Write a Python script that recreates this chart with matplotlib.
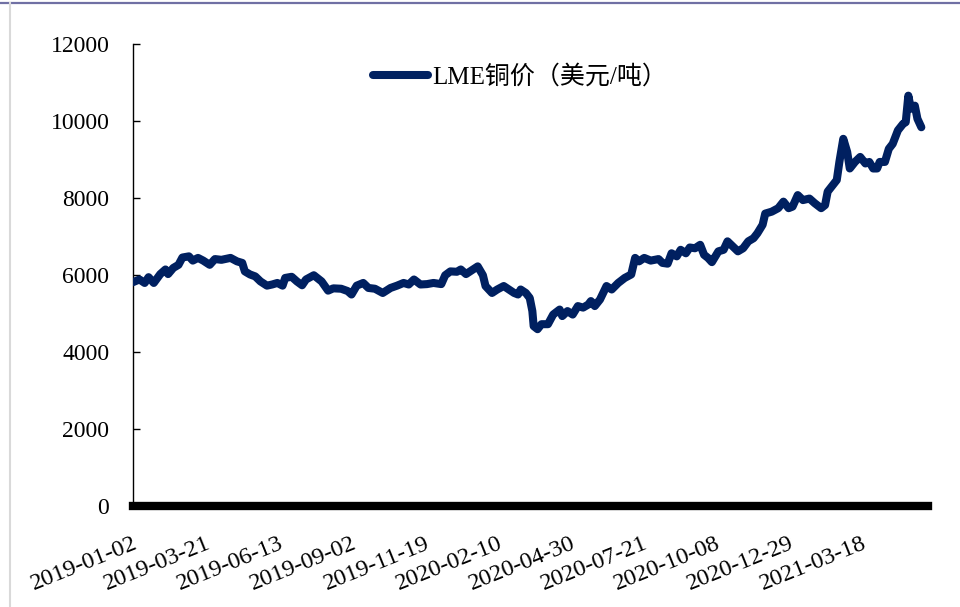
import matplotlib
matplotlib.use("Agg")
import matplotlib.pyplot as plt
from matplotlib.lines import Line2D

plt.rcParams["font.family"] = ["Liberation Serif", "Noto Sans CJK SC", "DejaVu Sans"]

# LME copper cash price, USD/t, keyed by trading day counted from 2019-01-02
day = [0, 5, 9, 12, 16, 21, 25, 27, 31, 35, 38, 43, 46, 50, 54, 59, 63, 68, 75, 80,
       84, 86, 90, 94, 98, 103, 107, 111, 115, 117, 122, 126, 130, 133, 139, 145, 150,
       154, 160, 165, 168, 172, 177, 181, 186, 192, 198, 203, 208, 212, 216, 221, 226,
       231, 237, 240, 244, 249, 252, 256, 260, 265, 269, 271, 276, 280, 285, 289, 293,
       296, 298, 302, 305, 307, 308, 311, 314, 319, 323, 328, 330, 334, 338, 342, 346,
       350, 352, 355, 359, 364, 368, 373, 378, 383, 386, 389, 393, 398, 404, 407, 411,
       414, 418, 421, 425, 428, 432, 436, 439, 442, 445, 450, 454, 457, 461, 465, 469,
       473, 477, 480, 484, 486, 491, 496, 500, 504, 507, 511, 515, 520, 524, 529, 532,
       534, 538, 541, 543, 546, 549, 551, 555, 559, 563, 566, 569, 572, 574, 578, 581,
       584, 588, 592, 594, 596, 598, 601, 603, 606]
price = [5820, 5890, 5800, 5950, 5800, 6030, 6150, 6030, 6190, 6270, 6460, 6490, 6380,
         6450, 6380, 6270, 6420, 6400, 6450, 6360, 6320, 6100, 6020, 5970, 5840, 5730,
         5760, 5800, 5730, 5930, 5960, 5840, 5740, 5890, 6000, 5840, 5600, 5660, 5650,
         5590, 5500, 5730, 5800, 5670, 5650, 5540, 5670, 5730, 5800, 5760, 5890, 5760,
         5770, 5800, 5770, 6000, 6100, 6090, 6150, 6030, 6120, 6230, 6000, 5720, 5540,
         5630, 5720, 5630, 5540, 5500, 5630, 5540, 5410, 5070, 4680, 4600, 4730, 4730,
         4980, 5110, 4940, 5070, 4980, 5200, 5160, 5240, 5330, 5200, 5370, 5720, 5630,
         5800, 5930, 6020, 6450, 6360, 6450, 6380, 6420, 6320, 6300, 6570, 6490, 6660,
         6570, 6720, 6700, 6790, 6530, 6450, 6340, 6620, 6660, 6880, 6750, 6620, 6700,
         6880, 6960, 7090, 7310, 7600, 7650, 7740, 7910, 7740, 7780, 8080, 7950, 7990,
         7870, 7740, 7820, 8170, 8340, 8470, 8940, 9540, 9200, 8770, 8940, 9070, 8900,
         8940, 8770, 8770, 8940, 8940, 9280, 9410, 9760, 9930, 9970, 10660, 10320, 10400,
         10060, 9840]

# category axis labelled every 56 trading days
tick_step = 56
tick_labels = ["2019-01-02", "2019-03-21", "2019-06-13", "2019-09-02", "2019-11-19",
               "2020-02-10", "2020-04-30", "2020-07-21", "2020-10-08", "2020-12-29",
               "2021-03-18"]
y_ticks = [0, 2000, 4000, 6000, 8000, 10000, 12000]
series_name = "LME铜价（美元/吨）"

NAVY = "#002060"

fig = plt.figure(figsize=(9.6, 6.07), dpi=100)
ax = fig.add_axes([0.1385, 0.1656, 0.828, 0.7619])

ax.plot(day, price, color=NAVY, lw=5.8, solid_joinstyle="round",
        solid_capstyle="round", label=series_name, zorder=3)

ax.set_xlim(0, 611)
ax.set_ylim(0, 12000)
ax.set_yticks(y_ticks)
ax.set_yticklabels([str(v) for v in y_ticks])
ax.set_xticks([i * tick_step for i in range(len(tick_labels))])
ax.set_xticklabels(tick_labels, rotation=22, ha="right", rotation_mode="anchor")

for side in ("top", "right"):
    ax.spines[side].set_visible(False)
ax.spines["left"].set_linewidth(1.0)
ax.spines["bottom"].set_linewidth(6.0)
ax.spines["bottom"].set_zorder(4)

ax.tick_params(axis="y", direction="in", length=5, width=1.0, pad=17,
               labelsize=17, colors="black")
ax.tick_params(axis="x", length=0, pad=19, labelsize=17.5)

leg = ax.legend(loc="center", bbox_to_anchor=(0.487, 0.929), frameon=False,
                fontsize=18, handlelength=2.2, handletextpad=0.15)

# thin page frame
fig.add_artist(Line2D([0, 1], [1 - 3 / 607, 1 - 3 / 607], transform=fig.transFigure,
                      color="#7070a4", lw=1.6))
fig.add_artist(Line2D([10 / 960, 10 / 960], [0, 1 - 3 / 607], transform=fig.transFigure,
                      color="#d9d9d9", lw=1.5))

fig.savefig("out.png", dpi=100, facecolor="white")
